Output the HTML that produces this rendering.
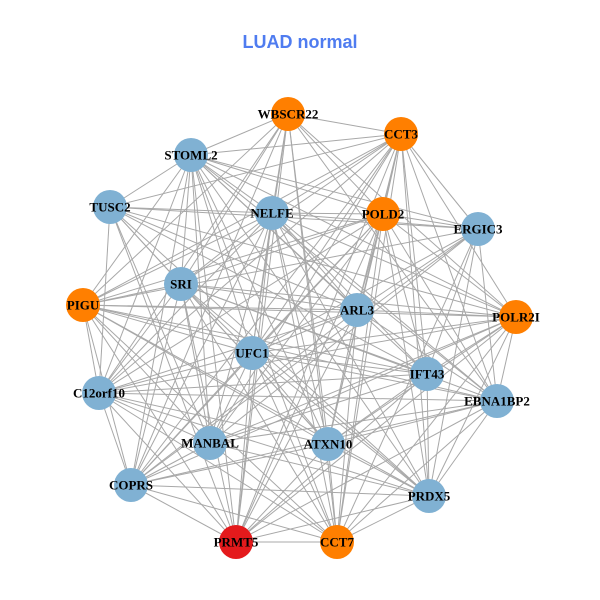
<!DOCTYPE html>
<html><head><meta charset="utf-8"><style>
body{margin:0;background:#fff}
svg{display:block}
text{font-family:"Liberation Serif",serif;font-weight:bold;font-size:13px;text-anchor:middle;dominant-baseline:central;fill:#000}
</style></head><body>
<svg id="s" width="600" height="600" viewBox="0 0 600 600">
<g id="e" stroke="#a8a8a8" stroke-width="1"></g>
<g id="n"></g>
<text x="300" y="42" style="font-family:'Liberation Sans',sans-serif;font-size:18px;fill:#4f7cf0">LUAD normal</text>
<g id="t">
<text x="288" y="114">WBSCR22</text>
<text x="401" y="134">CCT3</text>
<text x="191" y="155">STOML2</text>
<text x="110" y="207">TUSC2</text>
<text x="272" y="213">NELFE</text>
<text x="383" y="214">POLD2</text>
<text x="478" y="229">ERGIC3</text>
<text x="181" y="284">SRI</text>
<text x="83" y="305">PIGU</text>
<text x="357" y="310">ARL3</text>
<text x="516" y="317">POLR2I</text>
<text x="252" y="353">UFC1</text>
<text x="427" y="374">IFT43</text>
<text x="99" y="393">C12orf10</text>
<text x="497" y="401">EBNA1BP2</text>
<text x="210" y="443">MANBAL</text>
<text x="328" y="444">ATXN10</text>
<text x="131" y="485">COPRS</text>
<text x="429" y="496">PRDX5</text>
<text x="236" y="542">PRMT5</text>
<text x="337" y="542">CCT7</text>
</g>
</svg>
<script>
var N=[[288,114,'o'],[401,134,'o'],[191,155,'b'],[110,207,'b'],[272,213,'b'],[383,214,'o'],[478,229,'b'],[181,284,'b'],[83,305,'o'],[357,310,'b'],[516,317,'o'],[252,353,'b'],[427,374,'b'],[99,393,'b'],[497,401,'b'],[210,443,'b'],[328,444,'b'],[131,485,'b'],[429,496,'b'],[236,542,'r'],[337,542,'o']];
var C={o:'#ff7f00',b:'#80b1d3',r:'#e41a1c'},ns='http://www.w3.org/2000/svg';
var e=document.getElementById('e'),g=document.getElementById('n');
for(var i=0;i<N.length;i++)for(var j=i+1;j<N.length;j++){
 if((i*7+j*3)%9==0)continue;
 var l=document.createElementNS(ns,'line');
 l.setAttribute('x1',N[i][0]);l.setAttribute('y1',N[i][1]);l.setAttribute('x2',N[j][0]);l.setAttribute('y2',N[j][1]);e.appendChild(l);}
N.forEach(function(p){var c=document.createElementNS(ns,'circle');c.setAttribute('cx',p[0]);c.setAttribute('cy',p[1]);c.setAttribute('r',17);c.setAttribute('fill',C[p[2]]);g.appendChild(c);});
</script>
</body></html>
